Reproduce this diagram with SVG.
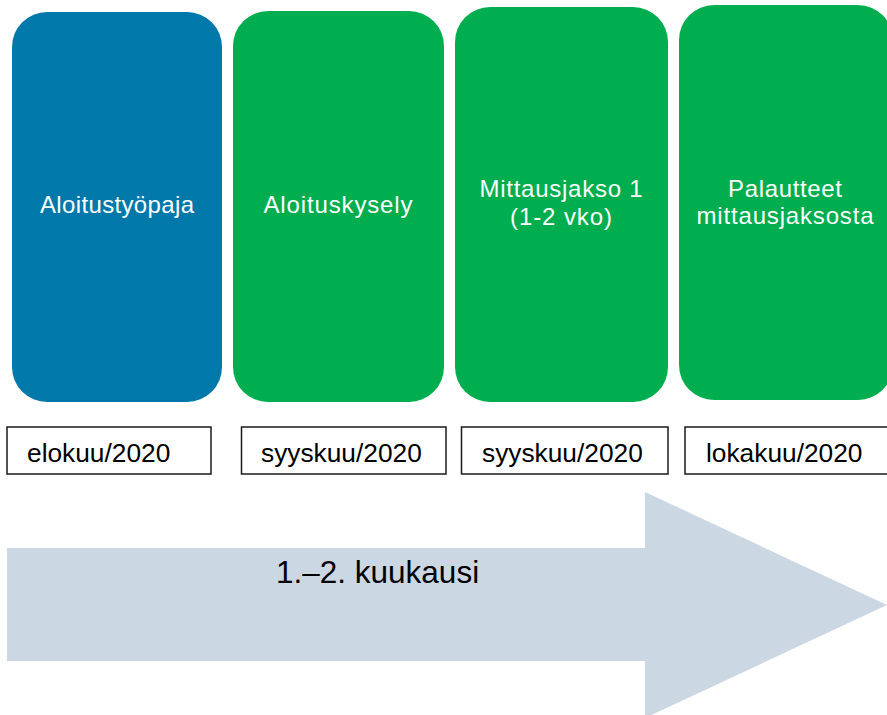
<svg xmlns="http://www.w3.org/2000/svg" width="887" height="715" viewBox="0 0 887 715">
<style>
.step{stroke:none}
.blue{fill:#0079AA}
.green{fill:#00AE4F}
.st{font-family:"Liberation Sans",Arial,sans-serif;font-size:24px;fill:#ffffff;text-anchor:middle}
.date rect{fill:#ffffff;stroke:#1a1a1a;stroke-width:1.5}
.date text{font-family:"Liberation Sans",Arial,sans-serif;font-size:26.3px;fill:#000000}
.arrow{fill:#CBD7E3}
.atext{font-family:"Liberation Sans",Arial,sans-serif;font-size:31.5px;fill:#000000}
</style>
<rect width="887" height="715" fill="#ffffff"/>
<g id="timeline-arrow">
<polygon class="arrow" points="7,548 645,548 645,492 887,605 645,718 645,661 7,661"/>
<text class="atext" x="276" y="583">1.–2. kuukausi</text>
</g>
<g id="step1">
<rect class="step blue" x="12" y="12" width="210" height="390" rx="35" ry="35"/>
<text class="st" x="117" y="213" textLength="154" lengthAdjust="spacing">Aloitustyöpaja</text>
</g>
<g id="step2">
<rect class="step green" x="233" y="11" width="211" height="391" rx="35" ry="35"/>
<text class="st" x="338" y="213" textLength="149" lengthAdjust="spacing">Aloituskysely</text>
</g>
<g id="step3">
<rect class="step green" x="455" y="7" width="213" height="395" rx="35" ry="35"/>
<text class="st" x="561" y="197" textLength="163" lengthAdjust="spacing">Mittausjakso 1</text>
<text class="st" x="561" y="225" textLength="102" lengthAdjust="spacing">(1-2 vko)</text>
</g>
<g id="step4">
<rect class="step green" x="679" y="5" width="214" height="395" rx="35" ry="35"/>
<text class="st" x="785" y="197" textLength="114" lengthAdjust="spacing">Palautteet</text>
<text class="st" x="785" y="224" textLength="177" lengthAdjust="spacing">mittausjaksosta</text>
</g>
<g id="date1" class="date">
<rect x="7" y="427" width="204" height="47"/>
<text x="27" y="462">elokuu/2020</text>
</g>
<g id="date2" class="date">
<rect x="241.5" y="427" width="204.5" height="47"/>
<text x="261" y="462">syyskuu/2020</text>
</g>
<g id="date3" class="date">
<rect x="461.5" y="427" width="206.5" height="47"/>
<text x="482" y="462">syyskuu/2020</text>
</g>
<g id="date4" class="date">
<rect x="685" y="427" width="210" height="47"/>
<text x="706" y="462">lokakuu/2020</text>
</g>
<g id="connectors"></g>
</svg>
